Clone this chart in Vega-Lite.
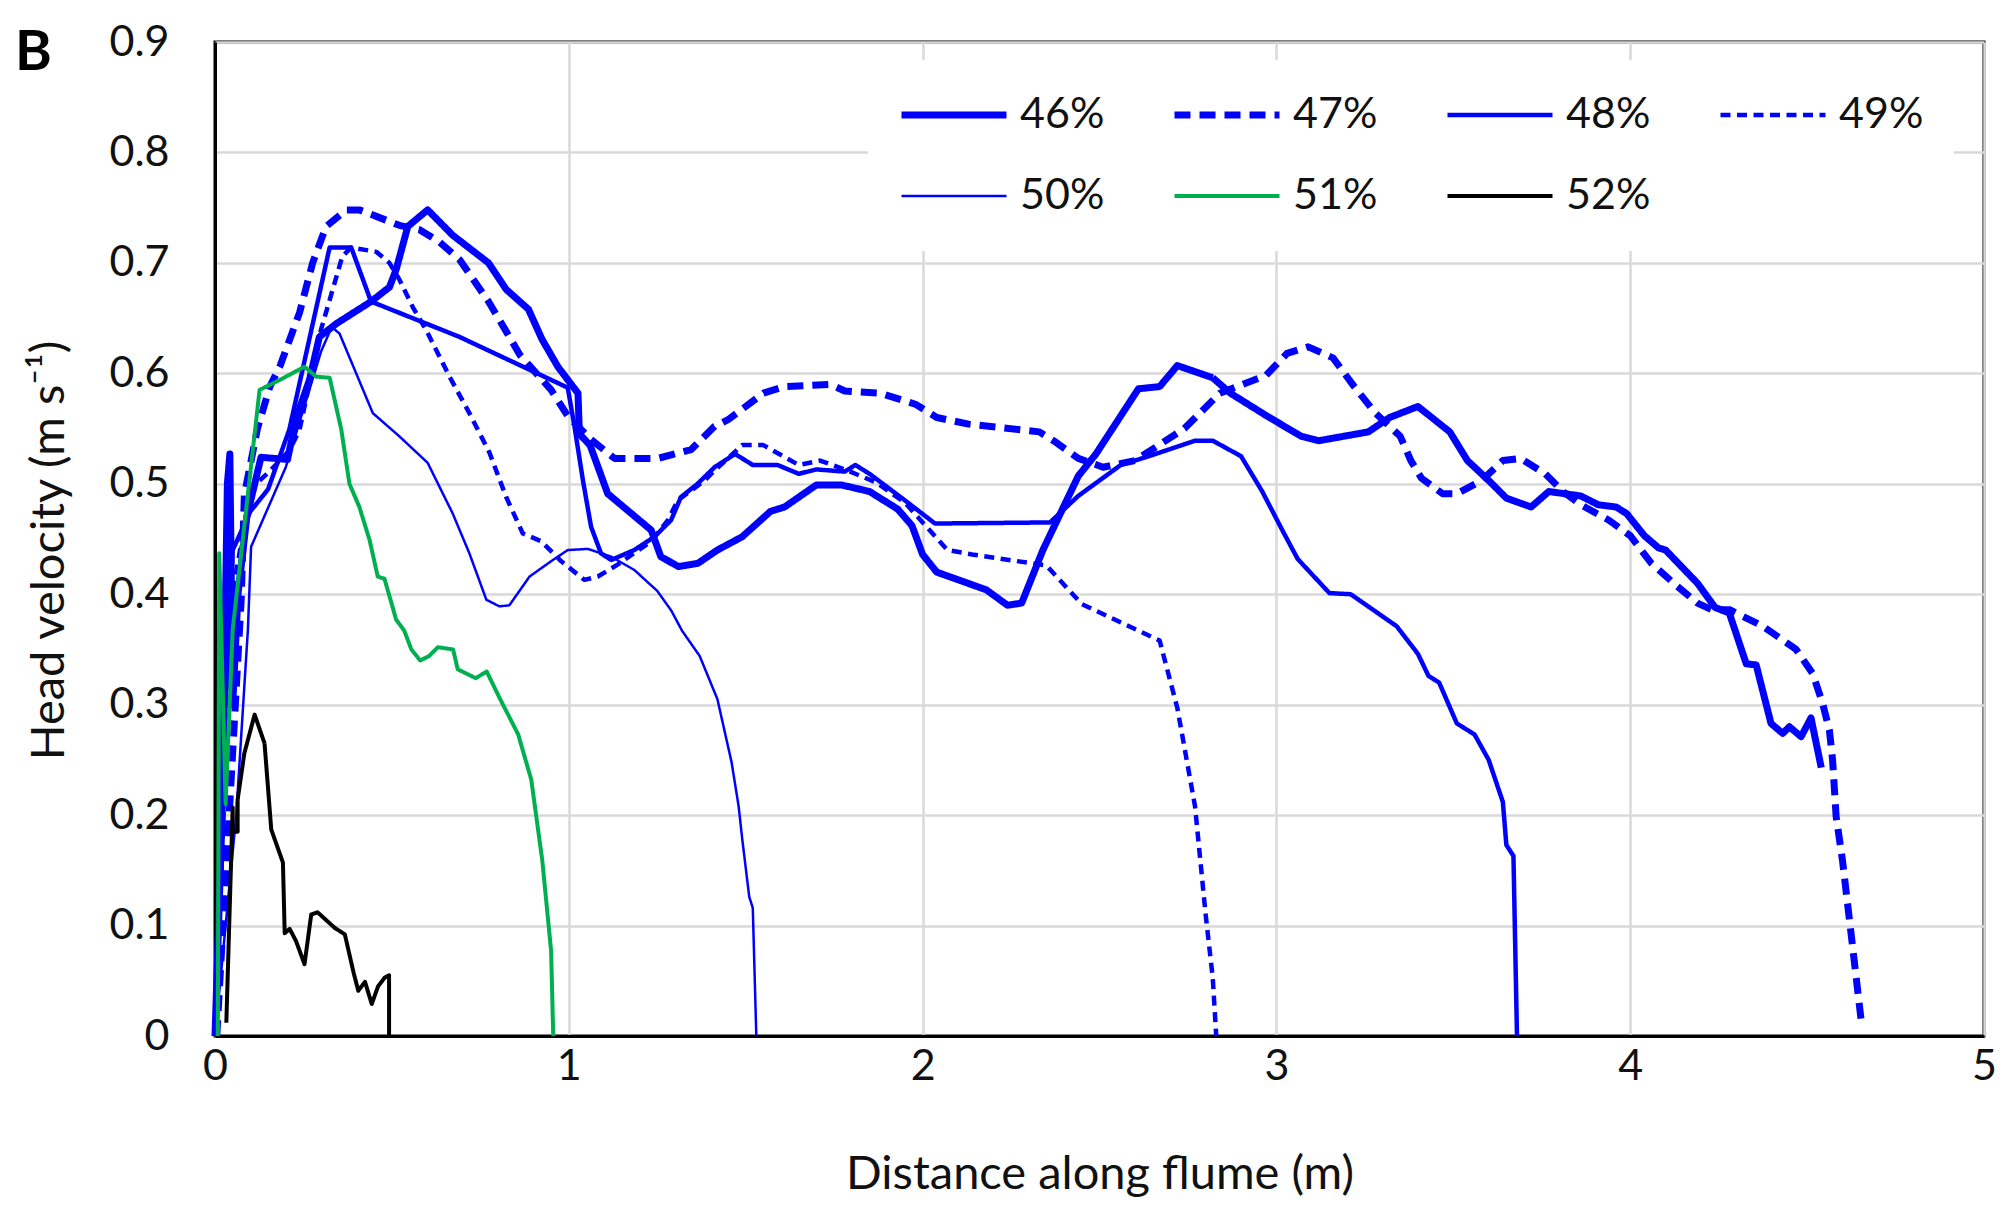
{
  "$schema": "https://vega.github.io/schema/vega-lite/v6.json",
  "autosize": {"type": "none"},
  "width": 1769,
  "height": 994,
  "padding": {"left": 215, "top": 42, "right": 27, "bottom": 172},
  "background": "white",
  "title": {"text": "B", "fontSize": 56, "fontWeight": "bold", "font": "Lato", "color": "#000000", "anchor": "start", "frame": "group", "dx": -200, "dy": 61, "offset": 0},
  "config": {
    "view": {"stroke": "#000000", "strokeWidth": 3},
    "font": "Lato"
  },
  "data": {"values": [
    {"s":"46%","x":0,"y":0},{"s":"46%","x":0.02,"y":0.2},{"s":"46%","x":0.035,"y":0.5},{"s":"46%","x":0.042,"y":0.527},{"s":"46%","x":0.05,"y":0.3},{"s":"46%","x":0.065,"y":0.4},{"s":"46%","x":0.09,"y":0.47},{"s":"46%","x":0.13,"y":0.524},{"s":"46%","x":0.205,"y":0.522},{"s":"46%","x":0.23,"y":0.56},{"s":"46%","x":0.267,"y":0.594},{"s":"46%","x":0.295,"y":0.633},{"s":"46%","x":0.343,"y":0.645},{"s":"46%","x":0.441,"y":0.665},{"s":"46%","x":0.493,"y":0.678},{"s":"46%","x":0.512,"y":0.694},{"s":"46%","x":0.545,"y":0.733},{"s":"46%","x":0.601,"y":0.748},{"s":"46%","x":0.672,"y":0.725},{"s":"46%","x":0.773,"y":0.7},{"s":"46%","x":0.823,"y":0.676},{"s":"46%","x":0.886,"y":0.658},{"s":"46%","x":0.924,"y":0.631},{"s":"46%","x":0.969,"y":0.606},{"s":"46%","x":1.026,"y":0.582},{"s":"46%","x":1.03,"y":0.545},{"s":"46%","x":1.06,"y":0.535},{"s":"46%","x":1.11,"y":0.491},{"s":"46%","x":1.233,"y":0.458},{"s":"46%","x":1.26,"y":0.434},{"s":"46%","x":1.31,"y":0.425},{"s":"46%","x":1.365,"y":0.428},{"s":"46%","x":1.42,"y":0.44},{"s":"46%","x":1.49,"y":0.452},{"s":"46%","x":1.57,"y":0.475},{"s":"46%","x":1.61,"y":0.479},{"s":"46%","x":1.7,"y":0.499},{"s":"46%","x":1.77,"y":0.499},{"s":"46%","x":1.85,"y":0.493},{"s":"46%","x":1.93,"y":0.477},{"s":"46%","x":1.97,"y":0.462},{"s":"46%","x":2.0,"y":0.436},{"s":"46%","x":2.04,"y":0.42},{"s":"46%","x":2.18,"y":0.404},{"s":"46%","x":2.24,"y":0.39},{"s":"46%","x":2.28,"y":0.392},{"s":"46%","x":2.34,"y":0.44},{"s":"46%","x":2.44,"y":0.507},{"s":"46%","x":2.49,"y":0.527},{"s":"46%","x":2.61,"y":0.586},{"s":"46%","x":2.67,"y":0.588},{"s":"46%","x":2.72,"y":0.607},{"s":"46%","x":2.82,"y":0.596},{"s":"46%","x":2.87,"y":0.582},{"s":"46%","x":2.97,"y":0.562},{"s":"46%","x":3.07,"y":0.543},{"s":"46%","x":3.12,"y":0.539},{"s":"46%","x":3.26,"y":0.547},{"s":"46%","x":3.32,"y":0.56},{"s":"46%","x":3.4,"y":0.57},{"s":"46%","x":3.49,"y":0.547},{"s":"46%","x":3.54,"y":0.521},{"s":"46%","x":3.6,"y":0.503},{"s":"46%","x":3.65,"y":0.487},{"s":"46%","x":3.72,"y":0.479},{"s":"46%","x":3.77,"y":0.493},{"s":"46%","x":3.86,"y":0.489},{"s":"46%","x":3.91,"y":0.481},{"s":"46%","x":3.96,"y":0.479},{"s":"46%","x":3.99,"y":0.473},{"s":"46%","x":4.04,"y":0.453},{"s":"46%","x":4.08,"y":0.442},{"s":"46%","x":4.1,"y":0.44},{"s":"46%","x":4.19,"y":0.41},{"s":"46%","x":4.24,"y":0.388},{"s":"46%","x":4.28,"y":0.383},{"s":"46%","x":4.328,"y":0.337},{"s":"46%","x":4.356,"y":0.336},{"s":"46%","x":4.398,"y":0.283},{"s":"46%","x":4.431,"y":0.274},{"s":"46%","x":4.45,"y":0.28},{"s":"46%","x":4.483,"y":0.271},{"s":"46%","x":4.511,"y":0.288},{"s":"46%","x":4.54,"y":0.243},

    {"s":"47%","x":0.005,"y":0},{"s":"47%","x":0.04,"y":0.2},{"s":"47%","x":0.074,"y":0.395},{"s":"47%","x":0.083,"y":0.49},{"s":"47%","x":0.12,"y":0.55},{"s":"47%","x":0.155,"y":0.588},{"s":"47%","x":0.183,"y":0.606},{"s":"47%","x":0.239,"y":0.655},{"s":"47%","x":0.276,"y":0.7},{"s":"47%","x":0.314,"y":0.733},{"s":"47%","x":0.371,"y":0.748},{"s":"47%","x":0.408,"y":0.748},{"s":"47%","x":0.465,"y":0.741},{"s":"47%","x":0.521,"y":0.734},{"s":"47%","x":0.578,"y":0.73},{"s":"47%","x":0.634,"y":0.719},{"s":"47%","x":0.691,"y":0.703},{"s":"47%","x":0.73,"y":0.685},{"s":"47%","x":0.773,"y":0.665},{"s":"47%","x":0.823,"y":0.638},{"s":"47%","x":0.861,"y":0.617},{"s":"47%","x":0.95,"y":0.585},{"s":"47%","x":0.998,"y":0.561},{"s":"47%","x":1.063,"y":0.54},{"s":"47%","x":1.129,"y":0.523},{"s":"47%","x":1.252,"y":0.523},{"s":"47%","x":1.346,"y":0.531},{"s":"47%","x":1.412,"y":0.552},{"s":"47%","x":1.45,"y":0.558},{"s":"47%","x":1.55,"y":0.582},{"s":"47%","x":1.61,"y":0.588},{"s":"47%","x":1.74,"y":0.59},{"s":"47%","x":1.78,"y":0.584},{"s":"47%","x":1.88,"y":0.582},{"s":"47%","x":1.98,"y":0.572},{"s":"47%","x":2.04,"y":0.56},{"s":"47%","x":2.13,"y":0.554},{"s":"47%","x":2.33,"y":0.547},{"s":"47%","x":2.37,"y":0.539},{"s":"47%","x":2.44,"y":0.523},{"s":"47%","x":2.51,"y":0.515},{"s":"47%","x":2.6,"y":0.521},{"s":"47%","x":2.74,"y":0.55},{"s":"47%","x":2.84,"y":0.582},{"s":"47%","x":2.97,"y":0.598},{"s":"47%","x":3.03,"y":0.618},{"s":"47%","x":3.09,"y":0.624},{"s":"47%","x":3.16,"y":0.614},{"s":"47%","x":3.22,"y":0.588},{"s":"47%","x":3.28,"y":0.564},{"s":"47%","x":3.35,"y":0.543},{"s":"47%","x":3.38,"y":0.521},{"s":"47%","x":3.41,"y":0.505},{"s":"47%","x":3.47,"y":0.491},{"s":"47%","x":3.51,"y":0.491},{"s":"47%","x":3.58,"y":0.503},{"s":"47%","x":3.64,"y":0.521},{"s":"47%","x":3.69,"y":0.523},{"s":"47%","x":3.76,"y":0.509},{"s":"47%","x":3.81,"y":0.493},{"s":"47%","x":3.86,"y":0.481},{"s":"47%","x":3.94,"y":0.467},{"s":"47%","x":4.0,"y":0.453},{"s":"47%","x":4.06,"y":0.428},{"s":"47%","x":4.13,"y":0.408},{"s":"47%","x":4.19,"y":0.392},{"s":"47%","x":4.23,"y":0.386},{"s":"47%","x":4.281,"y":0.386},{"s":"47%","x":4.318,"y":0.38},{"s":"47%","x":4.375,"y":0.371},{"s":"47%","x":4.469,"y":0.35},{"s":"47%","x":4.516,"y":0.328},{"s":"47%","x":4.544,"y":0.301},{"s":"47%","x":4.563,"y":0.277},{"s":"47%","x":4.572,"y":0.25},{"s":"47%","x":4.582,"y":0.199},{"s":"47%","x":4.6,"y":0.159},{"s":"47%","x":4.63,"y":0.077},{"s":"47%","x":4.655,"y":0.008},

    {"s":"48%","x":0,"y":0},{"s":"48%","x":0.03,"y":0.3},{"s":"48%","x":0.05,"y":0.44},{"s":"48%","x":0.1,"y":0.475},{"s":"48%","x":0.15,"y":0.495},{"s":"48%","x":0.21,"y":0.549},{"s":"48%","x":0.324,"y":0.714},{"s":"48%","x":0.385,"y":0.714},{"s":"48%","x":0.441,"y":0.665},{"s":"48%","x":0.691,"y":0.633},{"s":"48%","x":0.997,"y":0.587},{"s":"48%","x":1.016,"y":0.552},{"s":"48%","x":1.04,"y":0.503},{"s":"48%","x":1.063,"y":0.461},{"s":"48%","x":1.091,"y":0.437},{"s":"48%","x":1.12,"y":0.431},{"s":"48%","x":1.185,"y":0.44},{"s":"48%","x":1.242,"y":0.452},{"s":"48%","x":1.289,"y":0.467},{"s":"48%","x":1.317,"y":0.488},{"s":"48%","x":1.364,"y":0.5},{"s":"48%","x":1.412,"y":0.515},{"s":"48%","x":1.47,"y":0.527},{"s":"48%","x":1.52,"y":0.517},{"s":"48%","x":1.59,"y":0.517},{"s":"48%","x":1.65,"y":0.509},{"s":"48%","x":1.7,"y":0.513},{"s":"48%","x":1.78,"y":0.511},{"s":"48%","x":1.81,"y":0.517},{"s":"48%","x":1.85,"y":0.509},{"s":"48%","x":1.95,"y":0.485},{"s":"48%","x":2.035,"y":0.464},{"s":"48%","x":2.36,"y":0.465},{"s":"48%","x":2.44,"y":0.489},{"s":"48%","x":2.56,"y":0.517},{"s":"48%","x":2.64,"y":0.525},{"s":"48%","x":2.77,"y":0.539},{"s":"48%","x":2.82,"y":0.539},{"s":"48%","x":2.9,"y":0.525},{"s":"48%","x":2.96,"y":0.493},{"s":"48%","x":3.02,"y":0.456},{"s":"48%","x":3.06,"y":0.432},{"s":"48%","x":3.15,"y":0.401},{"s":"48%","x":3.21,"y":0.4},{"s":"48%","x":3.34,"y":0.371},{"s":"48%","x":3.4,"y":0.346},{"s":"48%","x":3.43,"y":0.326},{"s":"48%","x":3.46,"y":0.32},{"s":"48%","x":3.51,"y":0.283},{"s":"48%","x":3.56,"y":0.273},{"s":"48%","x":3.6,"y":0.25},{"s":"48%","x":3.64,"y":0.212},{"s":"48%","x":3.65,"y":0.173},{"s":"48%","x":3.67,"y":0.163},{"s":"48%","x":3.68,"y":0},

    {"s":"49%","x":0,"y":0},{"s":"49%","x":0.03,"y":0.25},{"s":"49%","x":0.06,"y":0.42},{"s":"49%","x":0.1,"y":0.495},{"s":"49%","x":0.15,"y":0.51},{"s":"49%","x":0.21,"y":0.53},{"s":"49%","x":0.239,"y":0.549},{"s":"49%","x":0.3,"y":0.64},{"s":"49%","x":0.36,"y":0.706},{"s":"49%","x":0.385,"y":0.714},{"s":"49%","x":0.456,"y":0.71},{"s":"49%","x":0.493,"y":0.7},{"s":"49%","x":0.521,"y":0.685},{"s":"49%","x":0.559,"y":0.66},{"s":"49%","x":0.597,"y":0.639},{"s":"49%","x":0.663,"y":0.597},{"s":"49%","x":0.719,"y":0.564},{"s":"49%","x":0.776,"y":0.528},{"s":"49%","x":0.823,"y":0.488},{"s":"49%","x":0.87,"y":0.455},{"s":"49%","x":0.922,"y":0.448},{"s":"49%","x":0.978,"y":0.43},{"s":"49%","x":1.044,"y":0.413},{"s":"49%","x":1.082,"y":0.416},{"s":"49%","x":1.139,"y":0.427},{"s":"49%","x":1.233,"y":0.448},{"s":"49%","x":1.28,"y":0.467},{"s":"49%","x":1.308,"y":0.485},{"s":"49%","x":1.384,"y":0.503},{"s":"49%","x":1.412,"y":0.512},{"s":"49%","x":1.49,"y":0.535},{"s":"49%","x":1.55,"y":0.535},{"s":"49%","x":1.65,"y":0.517},{"s":"49%","x":1.71,"y":0.521},{"s":"49%","x":1.78,"y":0.513},{"s":"49%","x":1.87,"y":0.501},{"s":"49%","x":1.95,"y":0.483},{"s":"49%","x":2.07,"y":0.44},{"s":"49%","x":2.14,"y":0.436},{"s":"49%","x":2.35,"y":0.426},{"s":"49%","x":2.45,"y":0.391},{"s":"49%","x":2.53,"y":0.379},{"s":"49%","x":2.67,"y":0.358},{"s":"49%","x":2.72,"y":0.297},{"s":"49%","x":2.77,"y":0.208},{"s":"49%","x":2.8,"y":0.11},{"s":"49%","x":2.82,"y":0.053},{"s":"49%","x":2.83,"y":0},

    {"s":"50%","x":0,"y":0},{"s":"50%","x":0.06,"y":0.2},{"s":"50%","x":0.093,"y":0.368},{"s":"50%","x":0.102,"y":0.443},{"s":"50%","x":0.2,"y":0.515},{"s":"50%","x":0.3,"y":0.62},{"s":"50%","x":0.33,"y":0.642},{"s":"50%","x":0.352,"y":0.636},{"s":"50%","x":0.446,"y":0.564},{"s":"50%","x":0.521,"y":0.543},{"s":"50%","x":0.601,"y":0.519},{"s":"50%","x":0.672,"y":0.473},{"s":"50%","x":0.719,"y":0.437},{"s":"50%","x":0.767,"y":0.395},{"s":"50%","x":0.804,"y":0.389},{"s":"50%","x":0.832,"y":0.39},{"s":"50%","x":0.889,"y":0.416},{"s":"50%","x":0.955,"y":0.431},{"s":"50%","x":0.997,"y":0.44},{"s":"50%","x":1.054,"y":0.441},{"s":"50%","x":1.12,"y":0.434},{"s":"50%","x":1.185,"y":0.422},{"s":"50%","x":1.25,"y":0.403},{"s":"50%","x":1.29,"y":0.385},{"s":"50%","x":1.32,"y":0.367},{"s":"50%","x":1.37,"y":0.344},{"s":"50%","x":1.42,"y":0.305},{"s":"50%","x":1.46,"y":0.248},{"s":"50%","x":1.48,"y":0.208},{"s":"50%","x":1.49,"y":0.179},{"s":"50%","x":1.51,"y":0.126},{"s":"50%","x":1.52,"y":0.116},{"s":"50%","x":1.53,"y":0},

    {"s":"51%","x":0.008,"y":0},{"s":"51%","x":0.012,"y":0.437},{"s":"51%","x":0.03,"y":0.21},{"s":"51%","x":0.05,"y":0.368},{"s":"51%","x":0.126,"y":0.585},{"s":"51%","x":0.183,"y":0.594},{"s":"51%","x":0.253,"y":0.606},{"s":"51%","x":0.286,"y":0.597},{"s":"51%","x":0.324,"y":0.596},{"s":"51%","x":0.357,"y":0.549},{"s":"51%","x":0.38,"y":0.5},{"s":"51%","x":0.408,"y":0.479},{"s":"51%","x":0.437,"y":0.449},{"s":"51%","x":0.46,"y":0.416},{"s":"51%","x":0.479,"y":0.414},{"s":"51%","x":0.512,"y":0.377},{"s":"51%","x":0.535,"y":0.367},{"s":"51%","x":0.555,"y":0.35},{"s":"51%","x":0.58,"y":0.34},{"s":"51%","x":0.605,"y":0.344},{"s":"51%","x":0.63,"y":0.352},{"s":"51%","x":0.673,"y":0.35},{"s":"51%","x":0.686,"y":0.332},{"s":"51%","x":0.737,"y":0.324},{"s":"51%","x":0.768,"y":0.33},{"s":"51%","x":0.806,"y":0.305},{"s":"51%","x":0.857,"y":0.273},{"s":"51%","x":0.894,"y":0.232},{"s":"51%","x":0.925,"y":0.159},{"s":"51%","x":0.95,"y":0.077},{"s":"51%","x":0.956,"y":0},

    {"s":"52%","x":0.032,"y":0.012},{"s":"52%","x":0.05,"y":0.207},{"s":"52%","x":0.05,"y":0.185},{"s":"52%","x":0.064,"y":0.185},{"s":"52%","x":0.064,"y":0.214},{"s":"52%","x":0.083,"y":0.256},{"s":"52%","x":0.112,"y":0.291},{"s":"52%","x":0.14,"y":0.265},{"s":"52%","x":0.159,"y":0.187},{"s":"52%","x":0.192,"y":0.157},{"s":"52%","x":0.197,"y":0.093},{"s":"52%","x":0.211,"y":0.097},{"s":"52%","x":0.229,"y":0.086},{"s":"52%","x":0.253,"y":0.065},{"s":"52%","x":0.272,"y":0.11},{"s":"52%","x":0.29,"y":0.112},{"s":"52%","x":0.338,"y":0.098},{"s":"52%","x":0.367,"y":0.092},{"s":"52%","x":0.392,"y":0.057},{"s":"52%","x":0.405,"y":0.041},{"s":"52%","x":0.424,"y":0.049},{"s":"52%","x":0.443,"y":0.029},{"s":"52%","x":0.461,"y":0.045},{"s":"52%","x":0.48,"y":0.053},{"s":"52%","x":0.492,"y":0.055},{"s":"52%","x":0.492,"y":0}
  ]},
  "mark": {"type": "line", "strokeJoin": "round"},
  "encoding": {
    "x": {"field": "x", "type": "quantitative",
      "scale": {"domain": [0, 5], "nice": false, "zero": false},
      "axis": {"values": [0,1,2,3,4,5], "format": "d", "grid": true, "gridColor": "#d9d9d9", "gridWidth": 2.5, "labelFlush": false,
        "domainColor": "#000000", "domainWidth": 3, "ticks": false, "labelFontSize": 43, "labelFont": "Lato", "labelColor": "#111111", "labelPadding": 9,
        "title": "Distance along flume (m)", "titleFont": "Lato", "titleFontSize": 47, "titleFontWeight": "normal", "titleColor": "#111111",
        "titleX": 884.5, "titleY": 138, "titleAlign": "center", "titleBaseline": "middle"}},
    "y": {"field": "y", "type": "quantitative",
      "scale": {"domain": [0, 0.9], "nice": false},
      "axis": {"values": [0,0.1,0.2,0.3,0.4,0.5,0.6,0.7,0.8,0.9], "format": ".1~f", "grid": true, "gridColor": "#d9d9d9", "gridWidth": 2.5, "labelFlush": false,
        "domainColor": "#000000", "domainWidth": 3, "ticks": false, "labelFontSize": 43, "labelFont": "Lato", "labelColor": "#111111", "labelPadding": 46,
        "title": "Head velocity (m s⁻¹)", "titleFont": "Lato", "titleFontSize": 47, "titleFontWeight": "normal", "titleColor": "#111111",
        "titleX": -166, "titleY": 508, "titleAlign": "center", "titleBaseline": "middle", "titleAngle": -90}},
    "color": {"field": "s", "type": "nominal",
      "scale": {"domain": ["46%","47%","48%","49%","50%","51%","52%"], "range": ["#0000ff","#0000ff","#0000ff","#0000ff","#0000ff","#00b050","#000000"]},
      "legend": {"orient": "none", "legendX": 653, "legendY": 18, "direction": "horizontal", "columns": 4, "title": null,
        "symbolType": "stroke", "symbolSize": 11025, "labelFontSize": 43, "labelFont": "Lato", "labelColor": "#111111", "labelOffset": 10,
        "columnPadding": 66, "rowPadding": 31, "clipHeight": 50, "padding": 30, "fillColor": "#ffffff", "strokeColor": null}},
    "strokeWidth": {"field": "s", "type": "nominal",
      "scale": {"type": "ordinal", "domain": ["46%","47%","48%","49%","50%","51%","52%"], "range": [7,7,4.5,4.5,2.5,4,4]}},
    "strokeDash": {"field": "s", "type": "nominal",
      "scale": {"domain": ["46%","47%","48%","49%","50%","51%","52%"], "range": [[1,0],[16,9],[1,0],[10,6.5],[1,0],[1,0],[1,0]]}},
    "order": {"value": null}
  }
}
